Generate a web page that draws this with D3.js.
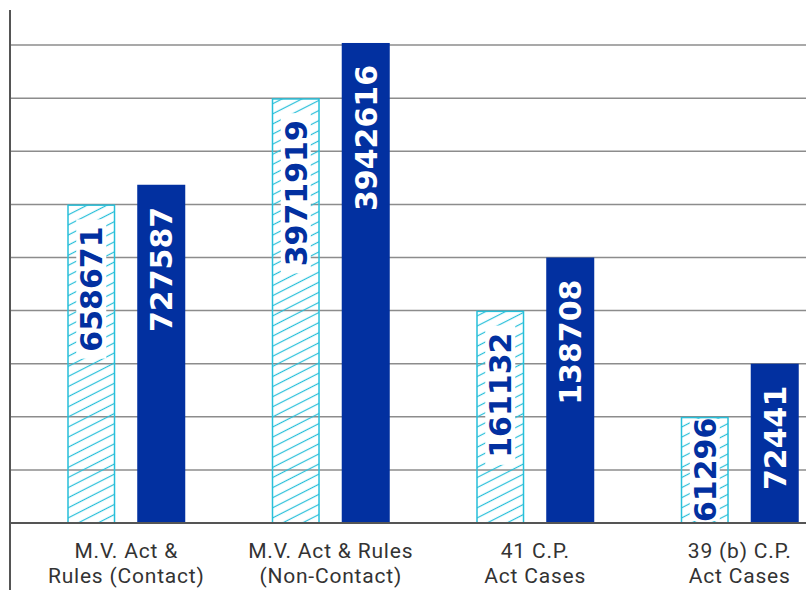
<!DOCTYPE html>
<html>
<head>
<meta charset="utf-8">
<script src="https://cdn.jsdelivr.net/npm/d3@7"></script>
<style>
    body { margin: 0; background: #fff; }
    svg { display: block; }
</style>
</head>
<body>
<div id="chart"></div>
<script>
(function () {
    'use strict';

    // categories, each split on two lines as in the original graphic
    var categories = ['mvContact', 'mvNonContact', 'cp41', 'cp39b'];
    var categoryLines = [
        ['M.V. Act &', 'Rules (Contact)'],
        ['M.V. Act & Rules', '(Non-Contact)'],
        ['41 C.P.', 'Act Cases'],
        ['39 (b) C.P.', 'Act Cases']
    ];
    // printed values
    var previousValues = [658671, 3971919, 161132, 61296];
    var currentValues = [727587, 3942616, 138708, 72441];
    // bar heights as drawn, in gridline steps (graphic is not to scale)
    var previousLevels = [6, 8, 4, 2];
    var currentLevels = [6.37, 9.04, 5, 3];
    var gridTicks = [1, 2, 3, 4, 5, 6, 7, 8, 9];

    var width = 806,
        height = 590,
        base = 523,
        dark = '#0230a0',
        cyan = '#27bfd9';

    var svg = d3.select('#chart')
        .append('svg')
        .attr('width', width)
        .attr('height', height);

    var y = d3.scaleLinear()
        .domain([0, 10])
        .range([base, base - 531]);

    var x = d3.scaleBand()
        .domain(categories)
        .range([24, 842])
        .padding(0);

    var sub = d3.scaleBand()
        .domain(['prev', 'curr'])
        .range([x.bandwidth() / 2 - 59, x.bandwidth() / 2 + 59])
        .paddingInner(0.314)
        .paddingOuter(0);

    var defs = svg.append('defs');
    var pattern = defs.append('pattern')
        .attr('id', 'hatch')
        .attr('patternUnits', 'userSpaceOnUse')
        .attr('width', 10)
        .attr('height', 9)
        .attr('patternTransform', 'rotate(-27)');
    pattern.append('line')
        .attr('x1', 0).attr('x2', 10)
        .attr('y1', 4.5).attr('y2', 4.5)
        .attr('stroke', cyan)
        .attr('stroke-width', 1.2);

    // gridlines
    svg.append('g')
        .attr('class', 'grid')
        .selectAll('line')
        .data(gridTicks)
        .enter().append('line')
        .attr('x1', 10).attr('x2', width)
        .attr('y1', function (d) { return y(d); })
        .attr('y2', function (d) { return y(d); })
        .attr('stroke', '#8c8c8c')
        .attr('stroke-width', 1.5);

    var rows = categories.map(function (c, i) {
        return [
            { cat: c, key: 'prev', value: previousValues[i], level: previousLevels[i] },
            { cat: c, key: 'curr', value: currentValues[i], level: currentLevels[i] }
        ];
    });

    var groups = svg.append('g')
        .selectAll('g')
        .data(rows)
        .enter().append('g')
        .attr('transform', function (d) { return 'translate(' + x(d[0].cat) + ',0)'; });

    var bar = groups.selectAll('g')
        .data(function (d) { return d; })
        .enter().append('g');

    var labelBg = bar.filter(function (d) { return d.key === 'prev'; })
        .append('rect')
        .attr('fill', '#fff');

    bar.insert('rect', ':first-child')
        .attr('x', function (d) { return sub(d.key) + (d.key === 'prev' ? 0.75 : 0); })
        .attr('y', function (d) { return y(d.level) + (d.key === 'prev' ? 0.75 : 0); })
        .attr('width', function (d) { return sub.bandwidth() - (d.key === 'prev' ? 1.5 : 0); })
        .attr('height', function (d) { return base - y(d.level) - (d.key === 'prev' ? 0.75 : 0); })
        .attr('fill', function (d) { return d.key === 'prev' ? 'url(#hatch)' : dark; });

    // outline drawn above the white label box
    bar.filter(function (d) { return d.key === 'prev'; })
        .append('rect')
        .attr('x', function (d) { return sub(d.key) + 0.75; })
        .attr('y', function (d) { return y(d.level) + 0.75; })
        .attr('width', sub.bandwidth() - 1.5)
        .attr('height', function (d) { return base - y(d.level) - 0.75; })
        .attr('fill', 'none')
        .attr('stroke', cyan)
        .attr('stroke-width', 1.5);

    var labels = bar.append('text')
        .attr('text-anchor', 'end')
        .attr('dy', '0.36em')
        .attr('font-family', '"DejaVu Sans", sans-serif')
        .attr('font-weight', 'bold')
        .attr('font-size', 30)
        .attr('fill', function (d) { return d.key === 'prev' ? dark : '#fff'; })
        .text(function (d) { return d.value; });

    labels.each(function (d) {
        var len = this.getComputedTextLength();
        var top = y(d.level);
        var h = base - top;
        d.top = top;
        d.end = top + Math.min(22, (h - len) / 2);
        d.len = len;
        d.cx = sub(d.key) + sub.bandwidth() / 2;
    });

    labels.attr('transform', function (d) {
        return 'translate(' + d.cx + ',' + d.end + ') rotate(-90)';
    });

    labelBg
        .attr('x', function (d) { return d.cx - 15; })
        .attr('y', function (d) { return Math.max(d.end - 7, d.top + 2); })
        .attr('width', 30)
        .attr('height', function (d) {
            return Math.min(d.end + d.len + 7, base - 2) - Math.max(d.end - 7, d.top + 2);
        });

    // axes lines
    svg.append('line')
        .attr('x1', 10).attr('x2', width)
        .attr('y1', base).attr('y2', base)
        .attr('stroke', '#555')
        .attr('stroke-width', 2);

    svg.append('line')
        .attr('x1', 10).attr('x2', 10)
        .attr('y1', 10).attr('y2', height)
        .attr('stroke', '#555')
        .attr('stroke-width', 2);

    // category labels, one text per line
    var catLabels = [];
    categories.forEach(function (c, i) {
        categoryLines[i].forEach(function (line, j) {
            catLabels.push({ cat: c, line: line, row: j });
        });
    });

    svg.append('g')
        .selectAll('text')
        .data(catLabels)
        .enter().append('text')
        .attr('x', function (d) { return x(d.cat) + x.bandwidth() / 2; })
        .attr('y', function (d) { return 558 + d.row * 25; })
        .attr('text-anchor', 'middle')
        .attr('font-family', 'Roboto, sans-serif')
        .attr('font-size', 21)
        .attr('letter-spacing', 0.8)
        .attr('fill', '#333')
        .text(function (d) { return d.line; });
})();
</script>
</body>
</html>
